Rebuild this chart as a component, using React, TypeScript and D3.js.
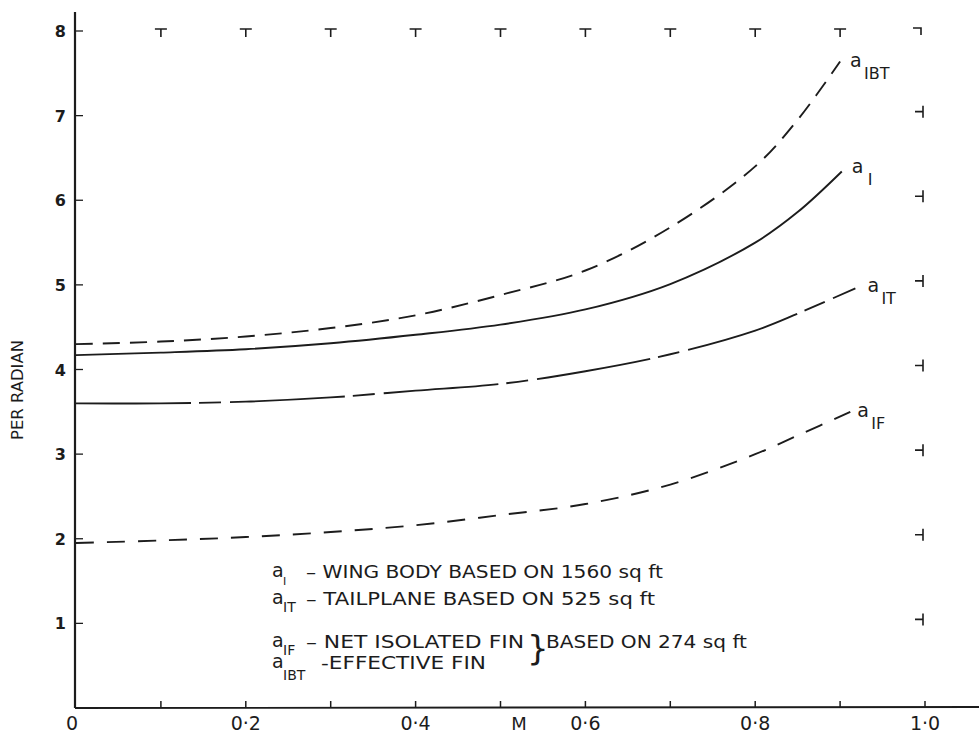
import React from "react";
import * as d3 from "d3";

// lift-curve slopes vs Mach number (per radian)
const machBT = [0, 0.1, 0.2, 0.3, 0.4, 0.5, 0.6, 0.7, 0.8, 0.85, 0.9];
const a1BT = [4.3, 4.33, 4.39, 4.49, 4.64, 4.88, 5.17, 5.68, 6.4, 6.95, 7.64];

const machW = [0, 0.1, 0.2, 0.3, 0.4, 0.5, 0.6, 0.7, 0.8, 0.85, 0.902];
const a1 = [4.17, 4.2, 4.24, 4.31, 4.41, 4.53, 4.71, 5.01, 5.5, 5.86, 6.34];

const machT = [0, 0.1, 0.2, 0.3, 0.4, 0.5, 0.6, 0.7, 0.8, 0.85, 0.918];
const a1T = [3.6, 3.6, 3.62, 3.67, 3.75, 3.83, 3.98, 4.18, 4.46, 4.66, 4.96];

const machF = [0, 0.1, 0.2, 0.3, 0.4, 0.5, 0.6, 0.7, 0.8, 0.85, 0.912];
const a1F = [1.95, 1.98, 2.02, 2.08, 2.16, 2.28, 2.41, 2.64, 3.0, 3.22, 3.5];

const xTicks = [0, 0.2, 0.4, 0.6, 0.8, 1.0];
const xTickLabels = ["0", "0·2", "0·4", "0·6", "0·8", "1·0"];
const xMinor = [0.1, 0.2, 0.3, 0.4, 0.5, 0.6, 0.7, 0.8, 0.9, 1.0];
const yTicks = [1, 2, 3, 4, 5, 6, 7, 8];

const legendSubs = ["I", "IT", "IF", "IBT"];
const legendTexts = [
  "– WING BODY BASED ON 1560 sq ft",
  "– TAILPLANE BASED ON 525 sq ft",
  "– NET ISOLATED FIN",
  "-EFFECTIVE FIN",
];

const ink = "#1c1c1c";
const font = "'DejaVu Sans', sans-serif";

const App = () => {
  const x = d3.scaleLinear().domain([0, 1]).range([76, 925]);
  const y = d3.scaleLinear().domain([0, 8]).range([708, 31]);

  const line = d3
    .line<[number, number]>()
    .x((d) => x(d[0]))
    .y((d) => y(d[1]))
    .curve(d3.curveCatmullRom.alpha(0.5));

  const series = [
    { m: machBT, v: a1BT, dash: "17 10", sub: "IBT", dx: 10, dy: 6 },
    { m: machW, v: a1, dash: null, sub: "I", dx: 10, dy: 2 },
    { m: machT, v: a1T, dash: "115 8 22 9", sub: "IT", dx: 12, dy: 4 },
    { m: machF, v: a1F, dash: "18 13", sub: "IF", dx: 7, dy: 5 },
  ];

  // legend layout: baseline, left of text, text width
  const legendY = [577, 604, 647, 668];
  const legendX = [306, 306, 306, 321];
  const legendW = [357, 349, 218, 165];

  return (
    <svg
      width={979}
      height={736}
      style={{ position: "absolute", left: 0, top: 0, background: "#fff" }}
    >
      {/* axes */}
      <line x1={75} y1={12} x2={75} y2={708} stroke={ink} strokeWidth={2.2} />
      <line x1={75} y1={708} x2={979} y2={707} stroke={ink} strokeWidth={1.8} />
      {xMinor.map((t) => (
        <line key={"bx" + t} x1={x(t)} x2={x(t)} y1={708} y2={701} stroke={ink} strokeWidth={1.5} />
      ))}
      {yTicks.map((t) => (
        <g key={"yt" + t}>
          <line x1={75} x2={83} y1={y(t)} y2={y(t)} stroke={ink} strokeWidth={1.3} />
          <text
            x={66}
            y={y(t) + 6}
            textAnchor="end"
            fontFamily={font}
            fontWeight="bold"
            fontSize={16}
            fill={ink}
          >
            {t}
          </text>
        </g>
      ))}
      {/* remnants of the grid frame */}
      {xMinor.slice(0, 9).map((t) => (
        <path
          key={"top" + t}
          d={`M${x(t) - 6},${y(8) - 2}H${x(t) + 6}M${x(t)},${y(8) - 2}V${y(8) + 6}`}
          stroke={ink}
          strokeWidth={1.6}
          fill="none"
        />
      ))}
      <path
        d={`M${x(1) - 12},${y(8) - 3}H${x(1) - 4}V${y(8) + 4}`}
        stroke={ink}
        strokeWidth={1.6}
        fill="none"
      />
      {yTicks.slice(0, 7).map((t) => (
        <path
          key={"rt" + t}
          d={`M${x(1) - 10},${y(t) - 4}H${x(1) - 2}M${x(1) - 2},${y(t) - 10}V${y(t) + 2}`}
          stroke={ink}
          strokeWidth={1.6}
          fill="none"
        />
      ))}

      {/* curves */}
      {series.map((s, i) => {
        const pts = s.m.map((m, j) => [m, s.v[j]] as [number, number]);
        const last = pts[pts.length - 1];
        const lx = x(last[0]) + s.dx;
        const ly = y(last[1]) + s.dy;
        return (
          <g key={"s" + i}>
            <path
              d={line(pts) || ""}
              fill="none"
              stroke={ink}
              strokeWidth={1.9}
              strokeDasharray={s.dash || undefined}
            />
            <text x={lx} y={ly} fontFamily={font} fontSize={19} fill={ink}>
              a
            </text>
            <text
              x={lx + (s.sub === "I" ? 16 : 14)}
              y={ly + 12}
              fontFamily={font}
              fontSize={16}
              fill={ink}
            >
              {s.sub}
            </text>
          </g>
        );
      })}

      {/* x labels */}
      {xTicks.map((t, i) => (
        <text
          key={"xl" + t}
          x={x(t) + (i === 0 ? -4 : 0)}
          y={730}
          textAnchor="middle"
          fontFamily={font}
          fontSize={19}
          fill={ink}
        >
          {xTickLabels[i]}
        </text>
      ))}
      <text x={519} y={730} textAnchor="middle" fontFamily={font} fontSize={18} fill={ink}>
        M
      </text>
      <text
        transform="translate(23,390) rotate(-90)"
        textAnchor="middle"
        fontFamily={font}
        fontSize={16}
        fill={ink}
        textLength={100}
        lengthAdjust="spacingAndGlyphs"
      >
        PER RADIAN
      </text>

      {/* legend */}
      {legendSubs.map((sub, i) => (
        <g key={"lg" + i}>
          <text x={272} y={legendY[i]} fontFamily={font} fontSize={19} fill={ink}>
            a
          </text>
          <text
            x={283}
            y={legendY[i] + (i === 3 ? 12 : 8)}
            fontFamily={font}
            fontSize={i === 0 ? 11 : 14}
            fill={ink}
          >
            {sub}
          </text>
          <text
            x={legendX[i]}
            y={legendY[i] + 1}
            fontFamily={font}
            fontSize={18}
            fill={ink}
            textLength={legendW[i]}
            lengthAdjust="spacingAndGlyphs"
          >
            {legendTexts[i]}
          </text>
        </g>
      ))}
      <text x={527} y={660} fontFamily={font} fontSize={34} fill={ink}>
        {"}"}
      </text>
      <text
        x={546}
        y={648}
        fontFamily={font}
        fontSize={18}
        fill={ink}
        textLength={201}
        lengthAdjust="spacingAndGlyphs"
      >
        BASED ON 274 sq ft
      </text>
    </svg>
  );
};

export default App;
